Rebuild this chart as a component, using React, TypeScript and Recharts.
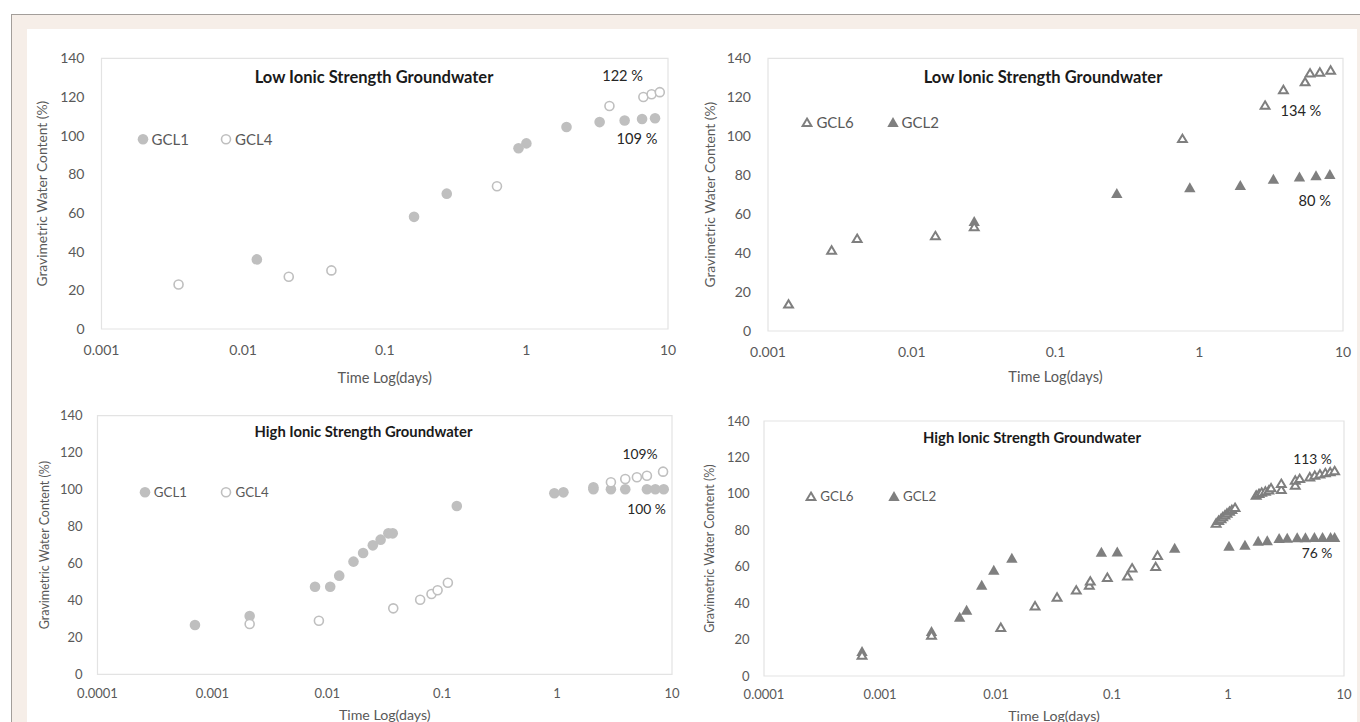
import React from "react";
import { ScatterChart, Scatter, XAxis, YAxis, ReferenceArea, Legend } from "recharts";

// time in days, gravimetric water content in %
// low ionic strength groundwater
const lowGcl1Time = [0.0125, 0.161, 0.274, 0.88, 1.0, 1.92, 3.29, 4.94, 6.56, 8.1];
const lowGcl1Water = [36, 58, 70, 93.5, 96, 104.5, 107, 107.8, 108.6, 109];
const lowGcl4Time = [0.0035, 0.021, 0.042, 0.62, 3.86, 6.7, 7.66, 8.75];
const lowGcl4Water = [23, 27, 30.3, 73.8, 115.3, 120, 121.4, 122.5];

const lowGcl6Time = [0.00139, 0.00277, 0.00417, 0.0146, 0.0272, 0.764, 2.87, 3.85, 5.45, 5.9, 6.9, 8.2];
const lowGcl6Water = [13.9, 41.6, 47.6, 49, 53.6, 98.9, 116, 124, 128, 132.5, 133, 134];
const lowGcl2Time = [0.0272, 0.267, 0.86, 1.93, 3.28, 4.98, 6.49, 8.1];
const lowGcl2Water = [56.3, 70.7, 73.6, 74.8, 78, 79.2, 79.8, 80.4];

// high ionic strength groundwater
const highGcl1Time = [
  0.000705, 0.00211, 0.00782, 0.0106, 0.0127, 0.0169, 0.0205, 0.0249, 0.0291, 0.034, 0.0371, 0.134,
  0.946, 1.135, 2.07, 2.07, 2.94, 3.92, 6.05, 7.16, 8.47,
];
const highGcl1Water = [
  26.7, 31.6, 47.4, 47.4, 53.4, 61, 65.7, 69.8, 72.9, 76.3, 76.3, 91.1,
  98, 98.5, 101.2, 100.2, 100.2, 100.2, 100.2, 100.2, 100.2,
];
const highGcl4Time = [0.00211, 0.00845, 0.0375, 0.0643, 0.0807, 0.0912, 0.112, 2.94, 3.92, 4.95, 6.05, 8.36];
const highGcl4Water = [27.2, 29, 35.7, 40.4, 43.5, 45.5, 49.6, 104, 105.7, 106.7, 107.5, 109.7];

const highGcl6Time = [
  0.0007, 0.00278, 0.011, 0.0217, 0.0336, 0.0492, 0.0637, 0.065, 0.0912, 0.136, 0.149, 0.238, 0.247,
  0.79, 0.83, 0.87, 0.9, 0.94, 0.98, 1.03, 1.08, 1.15,
  1.75, 1.85, 1.95, 2.1, 2.25, 2.35, 2.88, 2.88, 3.8, 3.8, 4.15,
  5.07, 5.6, 6.2, 6.9, 7.6, 8.3,
];
const highGcl6Water = [
  11.5, 22.5, 26.8, 38.6, 43.4, 47.3, 50, 52.2, 54.2, 55, 59.4, 60.2, 66.3,
  84, 85.5, 86.5, 87.5, 88.5, 89.5, 90.5, 91.5, 92.6,
  99.4, 100.3, 101, 101.6, 102.2, 103.4, 102.5, 105.8, 104.9, 107.6, 108.5,
  109.4, 110.3, 111, 111.7, 112.2, 112.8,
];
const highGcl2Time = [
  0.0007, 0.00278, 0.00486, 0.00558, 0.00753, 0.00957, 0.0137, 0.081, 0.111, 0.347,
  1.02, 1.4, 1.82, 2.18, 2.76, 3.24, 3.95, 4.65, 5.56, 6.53, 7.66, 8.3,
];
const highGcl2Water = [
  13.6, 24.6, 32.4, 36.2, 50, 58.2, 64.8, 68.1, 68.2, 70.3,
  71.4, 71.9, 74.1, 74.3, 75.6, 75.7, 76, 76, 76.1, 76.1, 76.2, 76.2,
];

const yTicks = [0, 20, 40, 60, 80, 100, 120, 140];
const xTicksLow = [0.001, 0.01, 0.1, 1, 10];
const xTicksHigh = [0.0001, 0.001, 0.01, 0.1, 1, 10];

const LIGHT = "#bfbfbf";
const DARK = "#7f7f7f";
const AXIS_TEXT = "#595959";
const FONT = "Lato, 'Open Sans', sans-serif";

type Kind = "dot" | "ring" | "tri" | "triOpen";

const toPoints = (t: number[], w: number[]) => t.map((x, i) => ({ x, y: w[i] }));

function Marker({ kind, cx, cy }: { kind: Kind; cx: number; cy: number }) {
  if (kind === "dot") return <circle cx={cx} cy={cy} r={5.3} fill={LIGHT} />;
  if (kind === "ring")
    return <circle cx={cx} cy={cy} r={4.5} fill="#fff" stroke={LIGHT} strokeWidth={1.6} />;
  if (kind === "tri") {
    const pts = `${cx},${cy - 5.3} ${cx + 5.7},${cy + 4.7} ${cx - 5.7},${cy + 4.7}`;
    return <polygon points={pts} fill={DARK} />;
  }
  const pts = `${cx},${cy - 3.7} ${cx + 4.4},${cy + 3.7} ${cx - 4.4},${cy + 3.7}`;
  return <polygon points={pts} fill="#fff" stroke={DARK} strokeWidth={2} />;
}

interface Series {
  name: string;
  kind: Kind;
  data: { x: number; y: number }[];
}

interface PanelProps {
  left: number;
  top: number;
  width: number;
  height: number;
  marginTop: number;
  marginRight: number;
  yWidth: number;
  xHeight: number;
  xDomain: [number, number];
  xTicks: number[];
  font: number;
  titleFont: number;
  axisTitleFont: number;
  yTitleFont: number;
  legendFont: number;
  noteFont: number;
  tickGapY: number;
  tickGapX: number;
  yTitleOffset: number;
  xTitleOffset: number;
  title: string;
  titleAt: [number, number];
  notes: { text: string; at: [number, number] }[];
  legendAt: [number, number];
  legendStep: number;
  legendOrder: string[];
  series: Series[];
}

function Panel(p: PanelProps) {
  const legendItems = p.legendOrder.map((n) => p.series.find((s) => s.name === n)!);
  return (
    <div style={{ position: "absolute", left: p.left, top: p.top, width: p.width, height: p.height }}>
      <ScatterChart
        width={p.width}
        height={p.height}
        margin={{ top: p.marginTop, right: p.marginRight, left: 0, bottom: 0 }}
      >
        <XAxis
          dataKey="x"
          type="number"
          scale="log"
          domain={p.xDomain}
          ticks={p.xTicks}
          interval={0}
          allowDataOverflow
          axisLine={false}
          tickLine={false}
          tickSize={0}
          tickMargin={p.tickGapX}
          height={p.xHeight}
          tick={{ fill: AXIS_TEXT, fontSize: p.font }}
          tickFormatter={(v: number) => String(v)}
          label={{
            value: "Time Log(days)",
            position: "insideBottom",
            offset: p.xTitleOffset,
            fill: AXIS_TEXT,
            fontSize: p.axisTitleFont,
          }}
        />
        <YAxis
          dataKey="y"
          type="number"
          domain={[0, 140]}
          ticks={yTicks}
          interval={0}
          axisLine={false}
          tickLine={false}
          tickSize={0}
          tickMargin={p.tickGapY}
          width={p.yWidth}
          tick={{ fill: AXIS_TEXT, fontSize: p.font }}
          label={{
            value: "Gravimetric Water Content  (%)",
            angle: -90,
            position: "insideLeft",
            offset: p.yTitleOffset,
            fill: AXIS_TEXT,
            fontSize: p.yTitleFont,
            style: { textAnchor: "middle", whiteSpace: "pre" },
          }}
        />
        <ReferenceArea
          x1={p.xDomain[0]}
          x2={p.xDomain[1]}
          y1={0}
          y2={140}
          fill="none"
          stroke="#e3e3e3"
          strokeWidth={1.2}
          ifOverflow="visible"
        />
        {p.series.map((s) => (
          <Scatter
            key={s.name}
            name={s.name}
            data={s.data}
            fill={s.kind === "dot" || s.kind === "ring" ? LIGHT : DARK}
            isAnimationActive={false}
            shape={(sp: any) => <Marker kind={s.kind} cx={sp.cx} cy={sp.cy} />}
          />
        ))}
        <Legend
          layout="horizontal"
          verticalAlign="middle"
          align="center"
          wrapperStyle={{ left: p.legendAt[0], top: p.legendAt[1], width: "auto" }}
          content={() => (
            <div style={{ display: "flex", fontFamily: FONT }}>
              {legendItems.map((s) => (
                <div
                  key={s.name}
                  style={{ display: "flex", alignItems: "center", width: p.legendStep, height: 16 }}
                >
                  <svg width={12} height={12} style={{ display: "block" }}>
                    <Marker kind={s.kind} cx={6} cy={6.3} />
                  </svg>
                  <span
                    style={{ marginLeft: 3, fontSize: p.legendFont, color: AXIS_TEXT, lineHeight: "16px" }}
                  >
                    {s.name}
                  </span>
                </div>
              ))}
            </div>
          )}
        />
      </ScatterChart>
      <div
        style={{
          position: "absolute",
          left: p.titleAt[0] - p.left,
          top: p.titleAt[1] - p.top,
          transform: "translate(-50%, -50%)",
          whiteSpace: "nowrap",
          fontWeight: 700,
          fontSize: p.titleFont,
          lineHeight: 1,
          color: "#1a1a1a",
        }}
      >
        {p.title}
      </div>
      {p.notes.map((n) => (
        <div
          key={n.text}
          style={{
            position: "absolute",
            left: n.at[0] - p.left,
            top: n.at[1] - p.top,
            transform: "translate(-50%, -50%)",
            whiteSpace: "nowrap",
            fontSize: p.noteFont,
            lineHeight: 1,
            color: "#262626",
          }}
        >
          {n.text}
        </div>
      ))}
    </div>
  );
}

const circleSeries = (g1: Series["data"], g4: Series["data"]): Series[] => [
  { name: "GCL1", kind: "dot", data: g1 },
  { name: "GCL4", kind: "ring", data: g4 },
];
const triangleSeries = (g2: Series["data"], g6: Series["data"]): Series[] => [
  { name: "GCL2", kind: "tri", data: g2 },
  { name: "GCL6", kind: "triOpen", data: g6 },
];

const topText = { font: 14, titleFont: 16.5, axisTitleFont: 14.6, yTitleFont: 13.8, legendFont: 15, noteFont: 14.6 };
const bottomText = { font: 13, titleFont: 14.8, axisTitleFont: 14.2, yTitleFont: 12.5, legendFont: 13.3, noteFont: 13.8 };

export default function App() {
  return (
    <div
      style={{
        position: "absolute",
        left: 0,
        top: 0,
        width: 1360,
        height: 722,
        background: "#fff",
        overflow: "hidden",
        fontFamily: FONT,
      }}
    >
      <div
        style={{
          position: "absolute",
          left: 11,
          top: 14,
          width: 1349,
          height: 708,
          background: "#f6eee8",
          borderTop: "1px solid #a39e9a",
          borderLeft: "1px solid #a39e9a",
        }}
      />
      <div style={{ position: "absolute", left: 27, top: 29, width: 1330, height: 693, background: "#fff" }} />

      <Panel
        left={30}
        top={40}
        width={650}
        height={350}
        marginTop={18.3}
        marginRight={12}
        yWidth={71.5}
        xHeight={61}
        xDomain={[0.001, 10]}
        xTicks={xTicksLow}
        {...topText}
        tickGapY={17}
        tickGapX={16}
        yTitleOffset={12}
        xTitleOffset={7.5}
        title="Low Ionic Strength Groundwater"
        titleAt={[374, 76.7]}
        notes={[
          { text: "122 %", at: [622.6, 75.7] },
          { text: "109 %", at: [637, 139.3] },
        ]}
        legendAt={[106.6, 91.3]}
        legendStep={83.4}
        legendOrder={["GCL1", "GCL4"]}
        series={circleSeries(toPoints(lowGcl1Time, lowGcl1Water), toPoints(lowGcl4Time, lowGcl4Water))}
      />
      <Panel
        left={695}
        top={40}
        width={660}
        height={350}
        marginTop={18.3}
        marginRight={12}
        yWidth={73}
        xHeight={59}
        xDomain={[0.001, 10]}
        xTicks={xTicksLow}
        {...topText}
        tickGapY={17}
        tickGapX={16}
        yTitleOffset={15}
        xTitleOffset={8.5}
        title="Low Ionic Strength Groundwater"
        titleAt={[1043, 76.7]}
        notes={[
          { text: "134 %", at: [1300.9, 111] },
          { text: "80 %", at: [1314.8, 201] },
        ]}
        legendAt={[106.4, 73.7]}
        legendStep={85.2}
        legendOrder={["GCL6", "GCL2"]}
        series={triangleSeries(toPoints(lowGcl2Time, lowGcl2Water), toPoints(lowGcl6Time, lowGcl6Water))}
      />
      <Panel
        left={30}
        top={400}
        width={655}
        height={322}
        marginTop={15.7}
        marginRight={13}
        yWidth={67.5}
        xHeight={47.7}
        xDomain={[0.0001, 10]}
        xTicks={xTicksHigh}
        {...bottomText}
        tickGapY={15}
        tickGapX={14.5}
        yTitleOffset={15}
        xTitleOffset={1.8}
        title="High Ionic Strength Groundwater"
        titleAt={[363.5, 431]}
        notes={[
          { text: "109%", at: [640, 454.3] },
          { text: "100 %", at: [646.5, 509.3] },
        ]}
        legendAt={[108.8, 83.7]}
        legendStep={81.7}
        legendOrder={["GCL1", "GCL4"]}
        series={circleSeries(toPoints(highGcl1Time, highGcl1Water), toPoints(highGcl4Time, highGcl4Water))}
      />
      <Panel
        left={695}
        top={400}
        width={660}
        height={322}
        marginTop={21}
        marginRight={11}
        yWidth={69}
        xHeight={46}
        xDomain={[0.0001, 10]}
        xTicks={xTicksHigh}
        {...bottomText}
        tickGapY={14.5}
        tickGapX={14}
        yTitleOffset={15}
        xTitleOffset={1.5}
        title="High Ionic Strength Groundwater"
        titleAt={[1032, 436.7]}
        notes={[
          { text: "113 %", at: [1312.5, 459.3] },
          { text: "76 %", at: [1317, 552.7] },
        ]}
        legendAt={[110.3, 88]}
        legendStep={82.7}
        legendOrder={["GCL6", "GCL2"]}
        series={triangleSeries(toPoints(highGcl2Time, highGcl2Water), toPoints(highGcl6Time, highGcl6Water))}
      />
    </div>
  );
}
